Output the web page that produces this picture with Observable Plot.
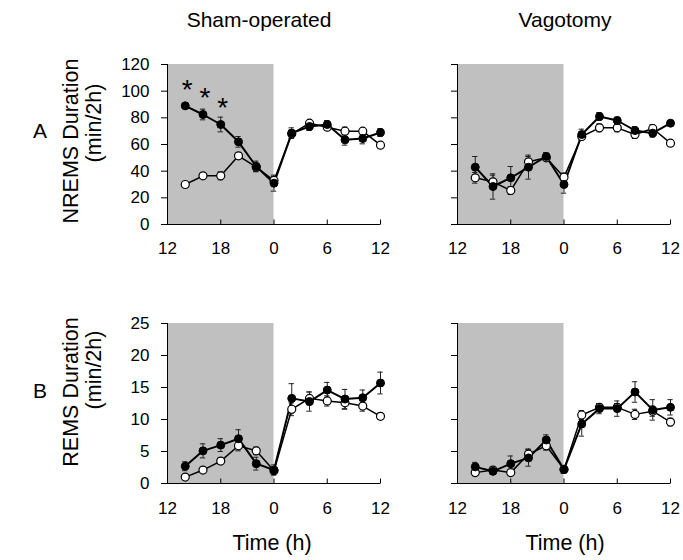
<!DOCTYPE html>
<html>
<head>
<meta charset="utf-8">
<script src="https://cdn.jsdelivr.net/npm/d3@7"></script>
<script src="https://cdn.jsdelivr.net/npm/@observablehq/plot@0.6"></script>
<style>
  body { margin: 0; background: white; }
  #fig { position: relative; width: 683px; height: 560px; overflow: hidden; font-family: "Liberation Sans", Arial, sans-serif; }
  #fig .panel { position: absolute; }
  #fig svg.labels { position: absolute; left: 0; top: 0; pointer-events: none; }
</style>
</head>
<body>
<div id="fig"></div>
<script>
// ---- data ----
const hours = [-10, -8, -6, -4, -2, 0, 2, 4, 6, 8, 10, 12];
const xTicks = [-12, -6, 0, 6, 12];
const nremsTicks = [0, 20, 40, 60, 80, 100, 120];
const remsTicks = [0, 5, 10, 15, 20, 25];

// NREMS, sham-operated
const nremsShamFilled = [89, 82.5, 75, 62, 43.5, 31, 68.5, 73.5, 75, 63.5, 64.5, 69];
const nremsShamFilledSem = [2, 4, 5.5, 4, 4, 6, 4, 3, 3, 4, 4, 3];
const nremsShamOpen = [30, 36.5, 36.5, 51.5, 43, 33, 68, 76, 73, 70, 70, 59.5];
const nremsShamOpenSem = [2, 2, 3, 2, 3, 3, 3, 2, 2, 3, 2, 2];
const nremsShamStars = [-10, -8, -6];

// NREMS, vagotomy
const nremsVagFilled = [43, 28.5, 35, 43, 51, 30, 67.5, 81, 78, 70.5, 68.5, 76];
const nremsVagFilledSem = [8, 9.5, 8.5, 9, 3, 6.5, 4, 3, 2.5, 3, 3, 2];
const nremsVagOpen = [35, 32, 25.5, 47, 50, 35.5, 66, 72.5, 72.5, 67.5, 72, 61];
const nremsVagOpenSem = [4, 5, 3, 4, 2, 3, 2, 3, 3, 3, 3, 2];

// REMS, sham-operated
const remsShamFilled = [2.7, 5.1, 6.0, 7.0, 3.1, 2.1, 13.3, 12.8, 14.6, 13.2, 13.4, 15.7];
const remsShamFilledSem = [0.7, 1.1, 1.0, 1.4, 1.0, 0.8, 2.3, 1.5, 1.2, 1.5, 1.2, 1.7];
const remsShamOpen = [1.0, 2.1, 3.5, 5.9, 5.1, 2.0, 11.6, 13.3, 12.9, 12.6, 12.1, 10.5];
const remsShamOpenSem = [0.3, 0.4, 0.5, 0.8, 0.6, 0.5, 1.0, 1.0, 0.8, 1.0, 0.8, 0.5];

// REMS, vagotomy
const remsVagFilled = [2.6, 1.9, 3.1, 4.0, 6.8, 2.2, 9.3, 11.7, 11.7, 14.3, 11.5, 11.9];
const remsVagFilledSem = [0.7, 0.5, 1.2, 1.3, 0.8, 0.6, 1.9, 0.8, 1.2, 1.6, 1.6, 1.2];
const remsVagOpen = [1.7, 2.1, 1.7, 4.6, 5.9, 2.2, 10.7, 11.9, 11.9, 10.8, 11.3, 9.6];
const remsVagOpenSem = [0.5, 0.5, 0.5, 0.8, 0.7, 0.6, 0.7, 0.6, 0.6, 0.8, 0.8, 0.6];

// ---- drawing ----
const xFmt = d => String(d < 0 ? d + 24 : d);
const vTick = { draw(ctx, size) { const l = Math.sqrt(size / Math.PI); ctx.moveTo(0, 0); ctx.lineTo(0, -l); } };

function panel(filled, fSem, open, oSem, yMax, yTicks, stars, tickPad, showYLabels) {
  const rows = hours.map((h, i) => ({ h, f: filled[i], fs: fSem[i], o: open[i], os: oSem[i] }));
  const shade = [{ x1: -12, x2: 0, y1: 0, y2: yMax }];
  const starRows = rows.filter(d => stars.includes(d.h));
  const capW = 0.3;
  return Plot.plot({
    width: 275, height: 210,
    marginLeft: 50, marginRight: 12, marginTop: 14, marginBottom: 36,
    style: { fontFamily: "'Liberation Sans', Arial, sans-serif", fontSize: "17px", color: "black", background: "transparent", overflow: "visible" },
    x: { domain: [-12, 12] },
    y: { domain: [0, yMax] },
    marks: [
      Plot.rect(shade, { x1: "x1", x2: "x2", y1: "y1", y2: "y2", fill: "#c0c0c0" }),
      // error bars (open)
      Plot.ruleX(rows, { x: "h", y1: d => d.o - d.os, y2: d => d.o + d.os, stroke: "#222", strokeWidth: 1 }),
      Plot.ruleY(rows, { y: d => d.o + d.os, x1: d => d.h - capW, x2: d => d.h + capW, stroke: "#222", strokeWidth: 1 }),
      Plot.ruleY(rows, { y: d => d.o - d.os, x1: d => d.h - capW, x2: d => d.h + capW, stroke: "#222", strokeWidth: 1 }),
      // error bars (filled)
      Plot.ruleX(rows, { x: "h", y1: d => d.f - d.fs, y2: d => d.f + d.fs, stroke: "#222", strokeWidth: 1 }),
      Plot.ruleY(rows, { y: d => d.f + d.fs, x1: d => d.h - capW, x2: d => d.h + capW, stroke: "#222", strokeWidth: 1 }),
      Plot.ruleY(rows, { y: d => d.f - d.fs, x1: d => d.h - capW, x2: d => d.h + capW, stroke: "#222", strokeWidth: 1 }),
      // lines
      Plot.line(rows, { x: "h", y: "o", stroke: "black", strokeWidth: 1.5 }),
      Plot.line(rows, { x: "h", y: "f", stroke: "black", strokeWidth: 2 }),
      Plot.dot(rows, { x: "h", y: "o", r: 4, fill: "white", stroke: "black", strokeWidth: 1.2 }),
      Plot.dot(rows, { x: "h", y: "f", r: 4, fill: "black", stroke: "black", strokeWidth: 1 }),
      Plot.text(starRows, { x: "h", y: "f", text: () => "*", fontSize: 28, dy: -16, dx: 2, fill: "black" }),
      // axes
      Plot.ruleX([-12], { y1: () => 0, y2: () => yMax, stroke: "black", strokeWidth: 1 }),
      Plot.ruleY([0], { x1: () => -12, x2: () => 12, stroke: "black", strokeWidth: 1 }),
      Plot.dot(xTicks, { x: d => d, y: () => 0, symbol: vTick, r: 5, fill: "none", stroke: "black", strokeWidth: 1 }),
      Plot.axisY({ ticks: yTicks, tickSize: 6, tickPadding: 12, label: null, tickFormat: d => (showYLabels ? String(d) : "") }),
      Plot.axisX({ ticks: xTicks, tickSize: 0, tickPadding: tickPad, label: null, tickFormat: xFmt })
    ]
  });
}

const fig = document.getElementById("fig");
function place(node, left, top) {
  node.classList.add("panel");
  node.style.left = left + "px";
  node.style.top = top + "px";
  fig.appendChild(node);
}
place(panel(nremsShamFilled, nremsShamFilledSem, nremsShamOpen, nremsShamOpenSem, 120, nremsTicks, nremsShamStars, 17, true), 117, 50);
place(panel(nremsVagFilled, nremsVagFilledSem, nremsVagOpen, nremsVagOpenSem, 120, nremsTicks, [], 17, false), 407, 50);
place(panel(remsShamFilled, remsShamFilledSem, remsShamOpen, remsShamOpenSem, 25, remsTicks, [], 18, true), 117, 309);
place(panel(remsVagFilled, remsVagFilledSem, remsVagOpen, remsVagOpenSem, 25, remsTicks, [], 18, false), 407, 309);

// text labels
const ns = "http://www.w3.org/2000/svg";
const lab = document.createElementNS(ns, "svg");
lab.setAttribute("class", "labels");
lab.setAttribute("width", 683);
lab.setAttribute("height", 560);
lab.style.fontFamily = "'Liberation Sans', Arial, sans-serif";
function txt(s, x, y, size, rot) {
  const t = document.createElementNS(ns, "text");
  t.textContent = s;
  t.setAttribute("text-anchor", "middle");
  t.setAttribute("font-size", size);
  t.setAttribute("fill", "black");
  t.setAttribute("transform", `translate(${x},${y})` + (rot ? ` rotate(${rot})` : ""));
  lab.appendChild(t);
}
txt("Sham-operated", 259, 27, 21);
txt("Vagotomy", 565, 27, 21);
txt("A", 40, 138, 21);
txt("B", 40, 398, 21);
txt("NREMS Duration", 78, 141, 21.5, -90);
txt("(min/2h)", 101, 123, 21.5, -90);
txt("REMS Duration", 78, 392, 21.5, -90);
txt("(min/2h)", 101, 370, 21.5, -90);
txt("Time (h)", 272, 550, 21.5);
txt("Time (h)", 565, 550, 21.5);
fig.appendChild(lab);
</script>
</body>
</html>
